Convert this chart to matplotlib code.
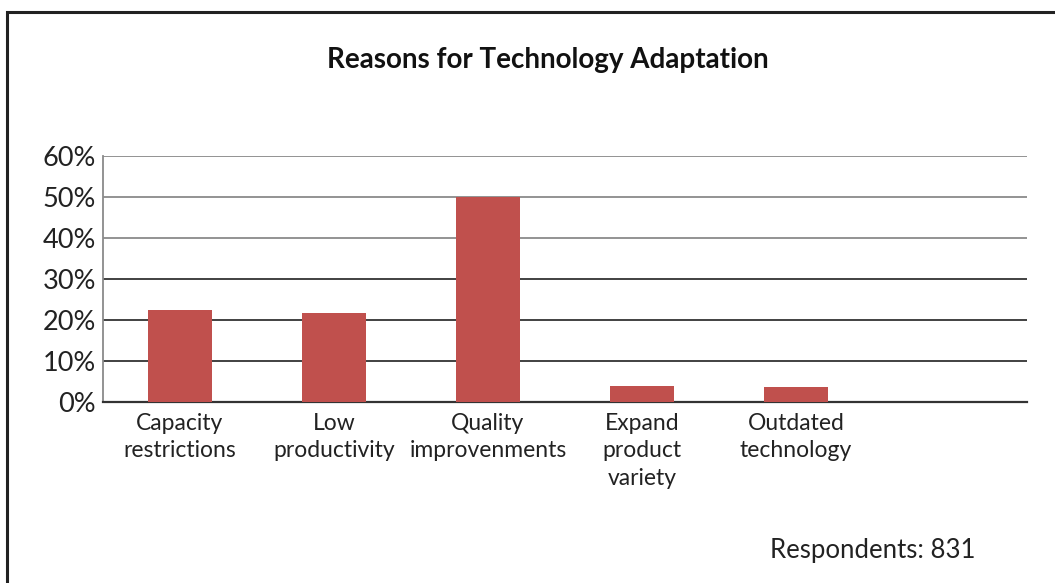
import matplotlib
matplotlib.use("Agg")
import matplotlib.pyplot as plt
from matplotlib.patches import Rectangle

# Share of respondents citing each reason (%)
categories = [
    "Capacity\nrestrictions",
    "Low\nproductivity",
    "Quality\nimprovenments",
    "Expand\nproduct\nvariety",
    "Outdated\ntechnology",
    "",
]
values = [22.4, 21.7, 50.0, 3.9, 3.7, 0.0]
yticks = [0, 10, 20, 30, 40, 50, 60]

plt.rcParams["font.family"] = ["Lato", "DejaVu Sans"]

fig = plt.figure(figsize=(10.55, 5.83), dpi=100)
ax = fig.add_axes([0.0976, 0.3105, 0.8759, 0.4219])

x = range(len(categories))
ax.bar(x, values, width=0.41, color="#C0504D", zorder=3)

ax.set_xlim(-0.5, len(categories) - 0.5)
ax.set_ylim(0, 60)
ax.set_yticks(yticks)
ax.set_yticklabels([f"{v}%" for v in yticks], fontsize=19.5, color="#222222")
ax.tick_params(axis="y", length=0, pad=5)
ax.set_xticks([])

# horizontal gridlines, lighter towards the top
for v in yticks[1:]:
    col = "#8a8a8a" if v >= 40 else "#333333"
    ax.axhline(v, color=col, linewidth=1.3, zorder=1)

for s in ["top", "right"]:
    ax.spines[s].set_visible(False)
ax.spines["left"].set_color("#8a8a8a")
ax.spines["left"].set_linewidth(1.3)
ax.spines["bottom"].set_color("#333333")
ax.spines["bottom"].set_linewidth(1.6)

for i, lab in enumerate(categories):
    ax.text(i, -2.6, lab, ha="center", va="top", fontsize=16.5,
            color="#222222", linespacing=1.4, transform=ax.transData)

fig.text(0.519, 0.897, "Reasons for Technology Adaptation", ha="center",
         va="center", fontsize=20, fontweight="bold", color="#111111")
fig.text(0.925, 0.055, "Respondents: 831", ha="right", va="center",
         fontsize=18.5, color="#222222")

# frame around the whole chart
fig.patches.append(Rectangle((7 / 1055, -0.1), 1.2, 1.1 - 12 / 583,
                             transform=fig.transFigure, fill=False,
                             edgecolor="#222222", linewidth=2.2))

fig.savefig("out.png", dpi=100, facecolor="white")
